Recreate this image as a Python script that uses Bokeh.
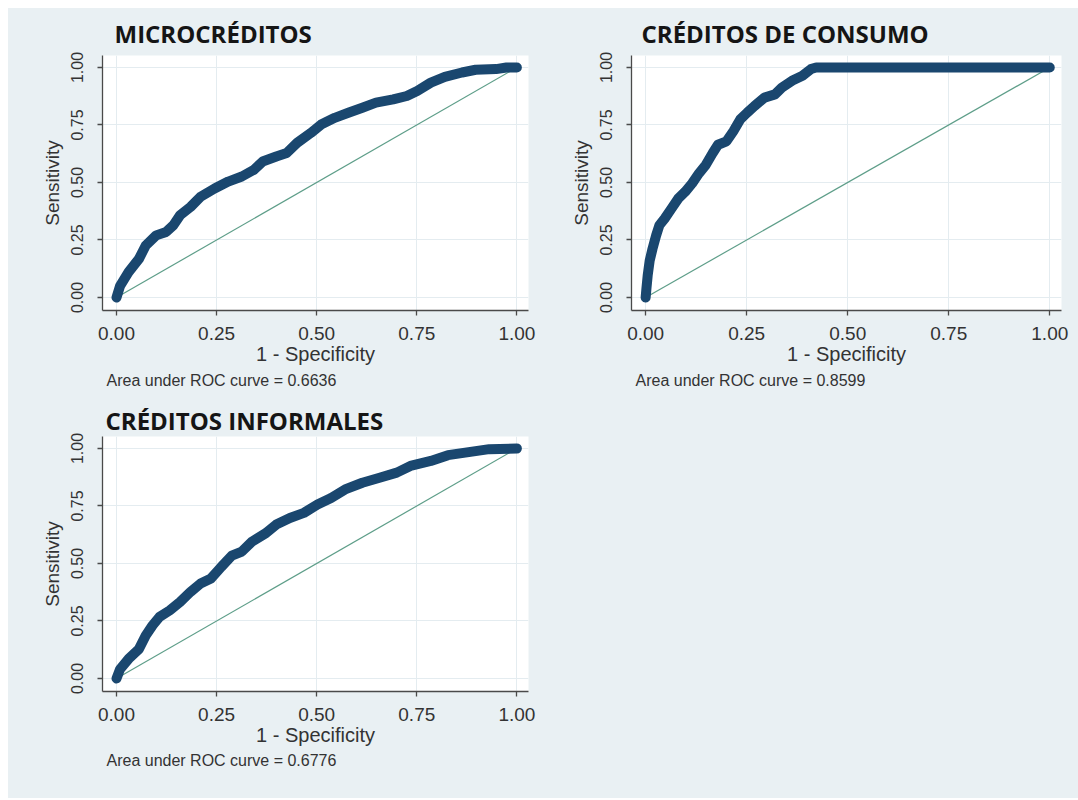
from bokeh.plotting import figure
from bokeh.models import Range1d, FixedTicker, Title, Spacer
from bokeh.layouts import column, row
from bokeh.embed import file_html
from bokeh.resources import INLINE

# ---------------- data ----------------
titles = ["MICROCRÉDITOS", "CRÉDITOS DE CONSUMO", "CRÉDITOS INFORMALES"]
auc_notes = ["Area under ROC curve = 0.6636",
             "Area under ROC curve = 0.8599",
             "Area under ROC curve = 0.6776"]
tick_values = [0.0, 0.25, 0.5, 0.75, 1.0]
tick_labels = ["0.00", "0.25", "0.50", "0.75", "1.00"]
x_title = "1 - Specificity"
y_title = "Sensitivity"
ref_x = [0.0, 1.0]
ref_y = [0.0, 1.0]

micro_fpr = [0.0, 0.009, 0.03, 0.056, 0.073, 0.099, 0.124, 0.142, 0.159, 0.185, 0.21,
             0.245, 0.279, 0.313, 0.343, 0.365, 0.399, 0.425, 0.451, 0.485, 0.511, 0.545,
             0.579, 0.614, 0.648, 0.691, 0.725, 0.751, 0.785, 0.82, 0.863, 0.897, 0.948,
             0.974, 1.0]
micro_tpr = [0.0, 0.051, 0.11, 0.168, 0.226, 0.27, 0.285, 0.314, 0.358, 0.394, 0.438,
             0.474, 0.504, 0.526, 0.555, 0.591, 0.613, 0.628, 0.672, 0.715, 0.752, 0.781,
             0.803, 0.825, 0.847, 0.861, 0.876, 0.898, 0.934, 0.959, 0.978, 0.99, 0.993,
             1.0, 1.0]

consumo_fpr = [0.0, 0.002, 0.005, 0.01, 0.017, 0.026, 0.034, 0.047, 0.064, 0.081, 0.098,
               0.115, 0.132, 0.149, 0.166, 0.179, 0.2, 0.217, 0.234, 0.251, 0.269, 0.294,
               0.32, 0.337, 0.362, 0.388, 0.409, 0.422, 1.0]
consumo_tpr = [0.0, 0.04, 0.095, 0.16, 0.212, 0.27, 0.314, 0.343, 0.387, 0.431, 0.46,
               0.496, 0.54, 0.577, 0.628, 0.664, 0.679, 0.723, 0.774, 0.803, 0.832, 0.869,
               0.883, 0.912, 0.942, 0.964, 0.993, 1.0, 1.0]

inf_fpr = [0.0, 0.009, 0.03, 0.056, 0.073, 0.09, 0.107, 0.133, 0.159, 0.185, 0.21, 0.236,
           0.262, 0.288, 0.313, 0.339, 0.373, 0.399, 0.433, 0.468, 0.502, 0.536, 0.571,
           0.614, 0.657, 0.7, 0.734, 0.785, 0.828, 0.871, 0.931, 1.0]
inf_tpr = [0.0, 0.041, 0.085, 0.128, 0.187, 0.231, 0.267, 0.296, 0.333, 0.377, 0.413, 0.435,
           0.486, 0.534, 0.552, 0.596, 0.632, 0.669, 0.698, 0.72, 0.756, 0.785, 0.822,
           0.851, 0.873, 0.895, 0.924, 0.946, 0.971, 0.982, 0.997, 1.0]

# ---------------- style ----------------
BG = "#E9F0F3"
CURVE = "#1A476F"
REF = "#5E9E89"
GRID = "#E4ECF0"
AXIS = "#4A4A4A"
TXT = "#333333"
FONT = "Liberation Sans"
FRAME_H = 255


def make_panel(fpr, tpr, title, note, frame_w, left, right, bottom,
               title_dx, title_standoff, note_standoff):
    p = figure(frame_width=frame_w, frame_height=FRAME_H, output_backend="svg",
               toolbar_location=None,
               x_range=Range1d(-0.035, 1.029), y_range=Range1d(-0.0565, 1.052),
               min_border_left=left, min_border_right=right, min_border_top=0,
               min_border_bottom=bottom, title=None)
    p.background_fill_color = "white"
    p.border_fill_color = BG
    p.outline_line_color = None

    ticker = FixedTicker(ticks=tick_values)
    overrides = dict(zip(tick_values, tick_labels))
    for ax in (p.xaxis[0], p.yaxis[0]):
        ax.ticker = ticker
        ax.major_label_overrides = overrides
        ax.axis_line_color = AXIS
        ax.axis_line_width = 1.3
        ax.major_tick_line_color = AXIS
        ax.major_tick_line_width = 1.3
        ax.major_tick_in = 0
        ax.major_tick_out = 5
        ax.minor_tick_line_color = None
        ax.major_label_text_font = FONT
        ax.major_label_text_color = TXT
        ax.axis_label_text_font = FONT
        ax.axis_label_text_font_style = "normal"
        ax.axis_label_text_color = TXT
    p.xaxis.axis_label = x_title
    p.yaxis.axis_label = y_title
    p.xaxis.axis_label_text_font_size = "20px"
    p.yaxis.axis_label_text_font_size = "19px"
    p.xaxis.major_label_text_font_size = "19px"
    p.yaxis.major_label_text_font_size = "16px"
    p.yaxis.major_label_orientation = "vertical"
    p.xaxis.major_label_standoff = 11
    p.yaxis.major_label_standoff = 14
    p.xaxis.axis_label_standoff = 0
    p.yaxis.axis_label_standoff = 6
    p.grid.grid_line_color = GRID
    p.grid.grid_line_width = 1

    p.line(ref_x, ref_y, line_color=REF, line_width=1.2)
    p.line(fpr, tpr, line_color=CURVE, line_width=10, line_join="round", line_cap="round")

    p.add_layout(Title(text=title, align="left", offset=title_dx, standoff=title_standoff,
                       vertical_align="bottom", text_font="Open Sans",
                       text_font_style="bold", text_font_size="24px",
                       text_color="#151515"), "above")
    p.add_layout(Title(text=note, align="left", offset=4, standoff=note_standoff,
                       vertical_align="top", text_font=FONT, text_font_style="normal",
                       text_font_size="16px", text_color=TXT), "below")
    return p


f1 = make_panel(micro_fpr, micro_tpr, titles[0], auc_notes[0],
                426, 94, 12, 91, 12, 12, 9)
f2 = make_panel(consumo_fpr, consumo_tpr, titles[1], auc_notes[1],
                430, 91, 17, 91, 10, 12, 9)
f3 = make_panel(inf_fpr, inf_tpr, titles[2], auc_notes[2],
                426, 94, 12, 107, 3, 0, 6)
blank = Spacer(width=538, height=396, styles={"background-color": BG})

grid = column(row(f1, f2, styles={"background-color": BG}),
              row(f3, blank, styles={"background-color": BG}),
              styles={"background-color": BG})
layout = column(Spacer(width=1078, height=8), row(Spacer(width=8, height=10), grid))

open("out.html", "w").write(file_html(layout, INLINE))
